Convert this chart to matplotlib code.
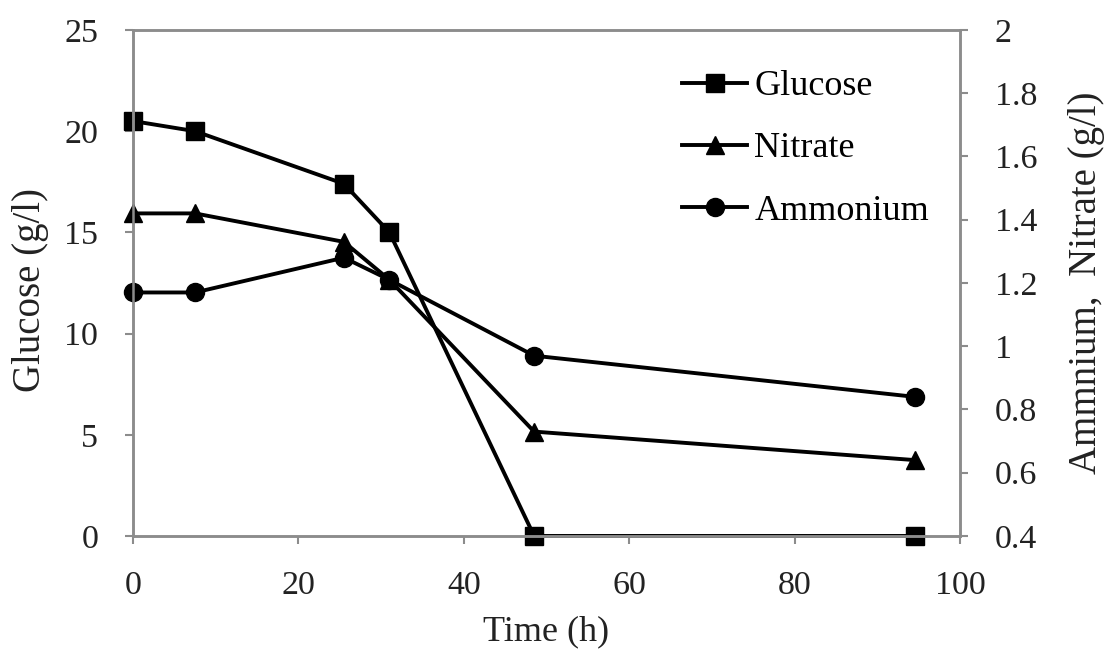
import matplotlib
matplotlib.use("Agg")
import matplotlib.pyplot as plt
from matplotlib.ticker import FuncFormatter, MultipleLocator

# Values
time_h = [0, 7.5, 25.5, 31, 48.5, 94.5]
glucose = [20.5, 20.0, 17.4, 15.0, 0.0, 0.0]
nitrate = [1.42, 1.42, 1.33, 1.21, 0.73, 0.64]
ammonium = [1.17, 1.17, 1.28, 1.21, 0.97, 0.84]

plt.rcParams['font.family'] = ['Liberation Serif', 'DejaVu Serif']

spine_color = '#8c8c8c'
text_color = '#222222'

fig = plt.figure(figsize=(11.04, 6.59), dpi=100)
ax = fig.add_axes([0.1205, 0.1867, 0.7491, 0.7678])
ax2 = ax.twinx()

line_kw = dict(color='black', linewidth=2.8, markersize=13, clip_on=False)
h1, = ax.plot(time_h, glucose, marker='s', label='Glucose', **line_kw)
h2, = ax2.plot(time_h, nitrate, marker='^', label='Nitrate', **line_kw)
h3, = ax2.plot(time_h, ammonium, marker='o', label='Ammonium', **line_kw)

ax.set_xlim(0, 100)
ax.set_ylim(0, 25)
ax2.set_ylim(0.4, 2.0)
ax.xaxis.set_major_locator(MultipleLocator(20))
ax.yaxis.set_major_locator(MultipleLocator(5))
ax2.yaxis.set_major_locator(MultipleLocator(0.2))
ax2.yaxis.set_major_formatter(FuncFormatter(lambda v, p: f"{v:g}"))

for a in (ax, ax2):
    for s in a.spines.values():
        s.set_color(spine_color)
        s.set_linewidth(1.8)
    a.tick_params(colors=spine_color, labelcolor=text_color, width=1.5,
                  length=6, direction='out', labelsize=24.5, pad=19)

# axis titles
ax.text(0.5, -0.19, 'Time (h)', transform=ax.transAxes, fontsize=26,
        color=text_color, ha='center', va='center')
ax.text(-0.1245, 0.486, 'Glucose (g/l)', transform=ax.transAxes,
        fontsize=28, color=text_color, rotation=90, ha='center', va='center')
ax.text(1.153, 0.5, 'Ammnium,  Nitrate (g/l)', transform=ax.transAxes,
        fontsize=28, color=text_color, rotation=90, ha='center', va='center')

ax.legend(handles=[h1, h2, h3], loc='upper left', frameon=False,
          fontsize=26, handlelength=1.8, handletextpad=0.2,
          labelspacing=0.8, borderaxespad=0, borderpad=0,
          bbox_to_anchor=(0.664, 0.921))

fig.savefig('out.png', dpi=100, facecolor='white')
